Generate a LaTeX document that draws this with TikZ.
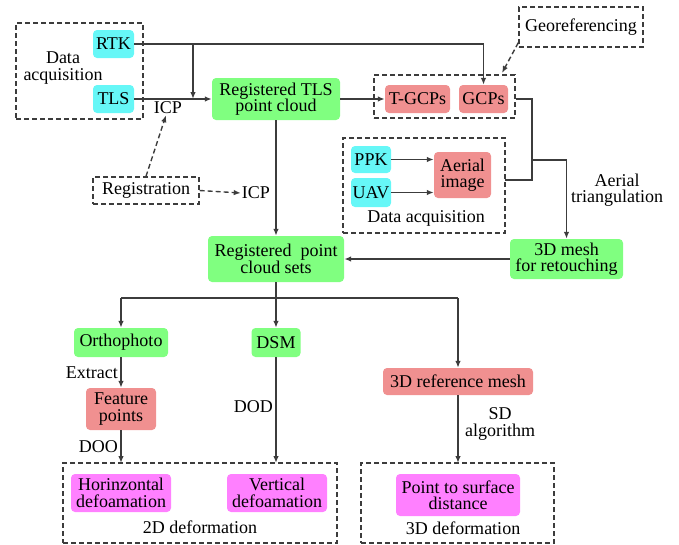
\documentclass[tikz,border=0pt]{standalone}
\usepackage{fontspec}
\setmainfont{Liberation Serif}
\usetikzlibrary{arrows.meta,calc}
\definecolor{cyanc}{HTML}{66F7F7}
\definecolor{greenc}{HTML}{80FF80}
\definecolor{redc}{HTML}{F09090}
\definecolor{magc}{HTML}{FF80FF}
\definecolor{linec}{HTML}{3C3C3C}
\begin{document}
\begin{tikzpicture}[x=1pt,y=-1pt,
  font=\fontsize{18}{16.5}\selectfont,
  box/.style={rounded corners=4pt, inner sep=0pt, align=center},
  cy/.style={box, fill=cyanc},
  gr/.style={box, fill=greenc},
  rd/.style={box, fill=redc},
  mg/.style={box, fill=magc},
  dbox/.style={draw=linec, dash pattern=on 5pt off 3pt, line width=1.4pt, inner sep=0pt, align=center},
  lbl/.style={inner sep=1pt, align=center},
  arr/.style={-{Latex[length=7pt,width=5.5pt]}, line width=1.4pt, draw=linec},
  ln/.style={line width=1.4pt, draw=linec},
  darr/.style={-{Latex[length=7pt,width=5.5pt]}, line width=1.4pt, draw=linec, dash pattern=on 5pt off 3pt},
]
\useasboundingbox (0,0) rectangle (679,544);

% dashed group boxes
\node[dbox, minimum width=127pt, minimum height=96pt] (da1) at (79.5,71) {};
\node[dbox, minimum width=141pt, minimum height=43pt] (gcpbox) at (444.5,96.5) {};
\node[dbox, minimum width=124pt, minimum height=40pt] (geo) at (581,27) {Georeferencing};
\node[dbox, minimum width=106pt, minimum height=27pt] (reg) at (146,190.5) {Registration};
\node[dbox, minimum width=162pt, minimum height=95pt] (da2) at (424,185.5) {};
\node[dbox, minimum width=274pt, minimum height=80pt] (box2d) at (200,503) {};
\node[dbox, minimum width=193pt, minimum height=80pt] (box3d) at (457.5,503) {};

% nodes
\node[cy, minimum width=41pt, minimum height=28pt] (rtk) at (113.5,44) {RTK};
\node[cy, minimum width=41pt, minimum height=28pt] (tls) at (113.5,99) {TLS};
\node[gr, minimum width=128pt, minimum height=42pt] (regtls) at (276,99) {Registered TLS\\point cloud};
\node[rd, minimum width=65pt, minimum height=28pt] (tgcp) at (417.5,99) {T-GCPs};
\node[rd, minimum width=49pt, minimum height=28pt] (gcp) at (483.5,99) {GCPs};
\node[cy, minimum width=40pt, minimum height=27pt] (ppk) at (371,159.5) {PPK};
\node[cy, minimum width=40pt, minimum height=29pt] (uav) at (371,192.5) {UAV};
\node[rd, minimum width=57pt, minimum height=46pt] (aerial) at (462.5,175) {Aerial\\image};
\node[gr, minimum width=113pt, minimum height=40pt] (mesh) at (566.5,259) {3D mesh\\for retouching};
\node[gr, minimum width=136pt, minimum height=46pt] (regpcs) at (276,259) {Registered\ \ point\\cloud sets};
\node[gr, minimum width=94pt, minimum height=29pt] (ortho) at (121,342.5) {Orthophoto};
\node[gr, minimum width=49pt, minimum height=29pt] (dsm) at (276,342.5) {DSM};
\node[rd, minimum width=150pt, minimum height=27pt] (ref) at (458,381.5) {3D reference mesh};
\node[rd, minimum width=70pt, minimum height=42pt] (feat) at (121,409) {Feature\\points};
\node[mg, minimum width=100pt, minimum height=38pt] (horiz) at (121,493) {Horinzontal\\defoamation};
\node[mg, minimum width=100pt, minimum height=38pt] (vert) at (277,493) {Vertical\\defoamation};
\node[mg, minimum width=124pt, minimum height=42pt] (p2s) at (458,495) {Point to surface\\distance};

% labels
\node[lbl] (da1lbl) at (63,68) {Data\\acquisition};
\node[lbl] (icp1) at (168,108) {ICP};
\node[lbl] (icp2) at (256,193) {ICP};
\node[lbl] (da2lbl) at (426,218) {Data acquisition};
\node[lbl] (aerlbl) at (617,190) {Aerial\\triangulation};
\node[lbl, anchor=east] (extract) at (119,373) {Extract};
\node[lbl, anchor=east] (doo) at (119,447) {DOO};
\node[lbl, anchor=east] (dod) at (274,407) {DOD};
\node[lbl] (sdlbl) at (500,424) {SD\\algorithm};
\node[lbl] (lbl2d) at (200,527) {2D deformation};
\node[lbl] (lbl3d) at (463,528) {3D deformation};

% coordinates
\coordinate (j1) at (193,44);
\coordinate (j2) at (193,99);
\coordinate (c1) at (532,99);
\coordinate (c2) at (532,180);
\coordinate (c3) at (505,180);
\coordinate (c4) at (532,160);
\coordinate (c5) at (566.5,160);
\coordinate (b0) at (276,298);
\coordinate (bl) at (121,298);
\coordinate (br) at (458,298);
\coordinate (geoend) at (502,73);
\coordinate (t2d1) at (121,463);
\coordinate (t2d2) at (276,463);
\coordinate (t3d) at (458,463);

% connectors
\draw[arr] (rtk.east) -- (gcp.north |- rtk.east) -- (gcp.north);
\draw[arr] (j1) -- (j2);
\draw[arr] (tls.east) -- (regtls.west);
\draw[arr] (regtls.east) -- (tgcp.west);
\draw[arr] (regtls.south) -- (regpcs.north);
\draw[darr] (reg.north) -- ([xshift=-2pt]icp1.south);
\draw[darr] (reg.east) -- (icp2.west);
\draw[darr] ([yshift=5pt]geo.south west) -- (geoend);
\draw[ln] (gcpbox.east |- gcp.east) -- (c1) -- (c2) -- (c3);
\draw[arr] (c4) -- (c5) -- (mesh.north);
\draw[arr] (ppk.east) -- (ppk.east -| aerial.west);
\draw[arr] (uav.east) -- (uav.east -| aerial.west);
\draw[arr] (mesh.west) -- (regpcs.east);
\draw[ln] (regpcs.south) -- (b0);
\draw[ln] (bl) -- (br);
\draw[arr] (bl) -- (ortho.north);
\draw[arr] (b0) -- (dsm.north);
\draw[arr] (br) -- (ref.north);
\draw[arr] (ortho.south) -- (feat.north);
\draw[arr] (feat.south) -- (t2d1);
\draw[arr] (dsm.south) -- (t2d2);
\draw[arr] (ref.south) -- (t3d);
\end{tikzpicture}
\end{document}
